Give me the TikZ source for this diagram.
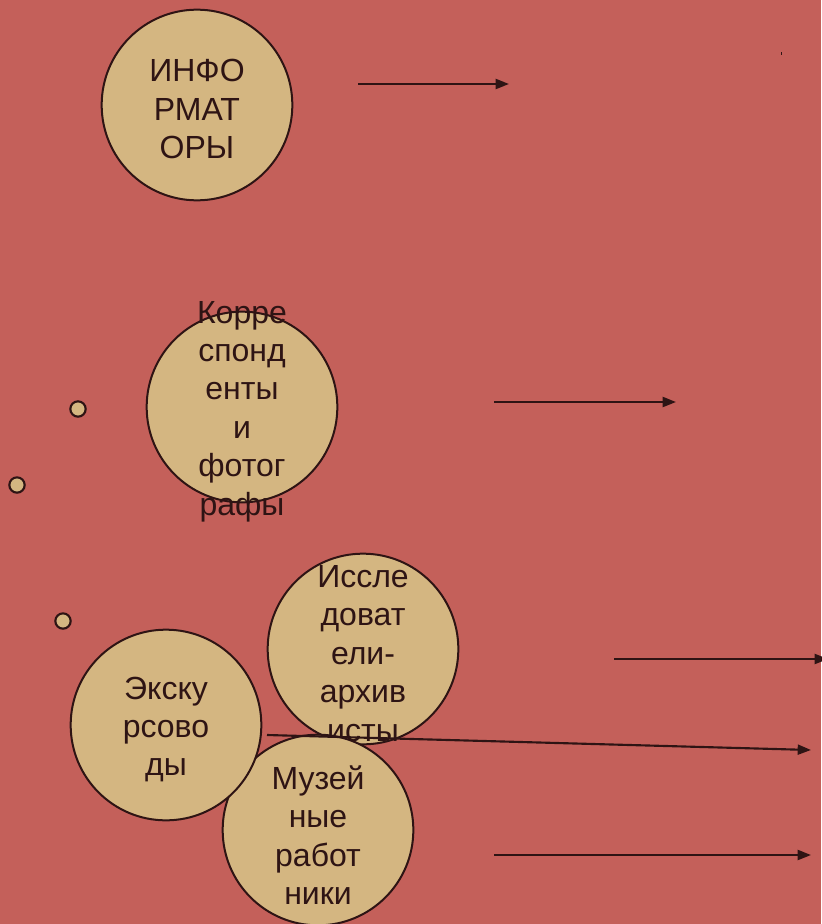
\documentclass[tikz,border=0pt]{standalone}
\usepackage{fontspec}
\setmainfont{Liberation Sans}
\usetikzlibrary{arrows.meta}
\definecolor{bgred}{HTML}{C4605A}
\definecolor{tanfill}{HTML}{D4B681}
\definecolor{darkbrn}{HTML}{2E1414}

\begin{document}
\begin{tikzpicture}[x=0.75pt,y=-0.75pt,
    grp/.style={circle,draw=darkbrn,fill=tanfill,line width=1.5pt,minimum size=143pt,inner sep=0pt},
    smalldot/.style={circle,draw=darkbrn,fill=tanfill,line width=1.6pt,minimum size=11.5pt,inner sep=0pt},
    grptext/.style={text=darkbrn,align=center,font=\fontsize{24}{28.8}\selectfont},
    arr/.style={draw=darkbrn,line width=1.6pt,-{Triangle[length=10pt,width=7.5pt]}}]
    % % ----- background ----- % %
    \fill [bgred] (0,0) rectangle (821,924);
    \useasboundingbox (0,0) rectangle (821,924);
    \fill [darkbrn] (780.5,52.5) rectangle ++(1,3); 	% speck
    % % ----- groups ----- % %
    \node [grp] (inf) at (197,105) {};
    \node [grptext] (inf-t) at (197,109) {ИНФО\\РМАТ\\ОРЫ};
    \node [grp] (korr) at (242,407) {};
    \node [grptext] (korr-t) at (242,411.5) {Корре\\спонд\\енты\\и\\фотог\\рафы};
    \node [grp] (issl) at (363,649) {};
    \node [grptext] (issl-t) at (363,653.5) {Иссле\\доват\\ели-\\архив\\исты};
    \node [grp] (muz) at (318,830) {};
    \node [grptext] (muz-t) at (318,835) {Музей\\ные\\работ\\ники};
    \node [grp] (eksk) at (166,725) {};
    \node [grptext] (eksk-t) at (166,729.5) {Экску\\рсово\\ды};
    % % ----- small dots ----- % %
    \node [smalldot] (d1) at (78,409) {};
    \node [smalldot] (d2) at (17,485) {};
    \node [smalldot] (d3) at (63,621) {};
    % % ----- arrows ----- % %
    \coordinate (a1) at (358,84);  \coordinate (b1) at (509,84);
    \coordinate (a2) at (494,402); \coordinate (b2) at (676,402);
    \coordinate (a3) at (614,659); \coordinate (b3) at (828,659);
    \coordinate (a4) at (267,735); \coordinate (b4) at (811,750);
    \coordinate (a5) at (494,855); \coordinate (b5) at (811,855);
    \draw [arr] (a1) -- (b1); 	% informatory
    \draw [arr] (a2) -- (b2); 	% korrespondenty
    \draw [arr] (a3) -- (b3); 	% issledovateli
    \draw [arr] (a4) -- (b4); 	% ekskursovody
    \draw [arr] (a5) -- (b5); 	% muzejnye
\end{tikzpicture}
\end{document}
